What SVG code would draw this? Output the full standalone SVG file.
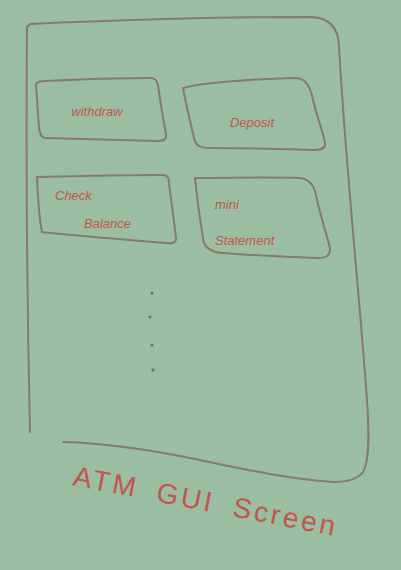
<svg xmlns="http://www.w3.org/2000/svg" width="401" height="570" viewBox="0 0 401 570">
<style>
.ln{fill:none;stroke:#857a6c;stroke-width:2;stroke-linecap:round;stroke-linejoin:round}
.tx{font-family:"Liberation Sans",Arial,sans-serif;fill:#c0574f;font-size:13px;font-style:italic}
.big{font-family:"Liberation Sans",Arial,sans-serif;fill:#c0574f;font-size:28px;letter-spacing:3px;word-spacing:8px}
.dot{fill:#6f6d62}
</style>
<rect width="401" height="570" fill="#9bbda2"/>
<g id="screen">
<path class="ln" d="M27,27 L30,24 C120,20 230,17 312,17 C330,18 338,28 339,45 C345,160 360,300 367,400 C369,430 370,460 363,472 C357,480 345,482 333,482 C280,478 230,466 190,458 C140,448 100,443 63,442"/>
<path class="ln" d="M27,27 C26,150 27,300 30,432"/>
</g>
<g id="withdraw">
<path class="ln" d="M36,84 C37,82 40,81 45,81 C80,79 120,78 150,78 C155,78 157,80 158,85 C160,100 163,118 166,134 C167,139 164,141 158,141 C120,140 80,139 46,138 C41,138 40,134 39,128 C38,112 37,98 36,84 Z"/>
<text class="tx" x="97" y="116" text-anchor="middle">withdraw</text>
</g>
<g id="deposit">
<path class="ln" d="M183,88 C200,83 250,79 295,78 C305,78 310,85 313,100 C318,120 324,135 325,143 C326,149 320,150 312,150 C275,149 240,148 210,148 C200,148 196,146 194,138 C190,120 186,105 183,88 Z"/>
<text class="tx" x="252" y="127" text-anchor="middle">Deposit</text>
</g>
<g id="check-balance">
<path class="ln" d="M37,177 C80,176 130,175 163,175 C168,175 169,178 169,183 C171,200 174,220 176,238 C176,243 172,244 166,243 C130,240 80,236 42,232 C39,218 38,200 37,177 Z"/>
<text class="tx" x="55" y="200">Check</text>
<text class="tx" x="84" y="228">Balance</text>
</g>
<g id="mini-statement">
<path class="ln" d="M195,178 C230,178 270,177 300,178 C310,179 314,186 316,195 C320,215 326,232 330,248 C331,256 325,258 318,258 C285,257 250,255 222,253 C210,252 203,246 203,238 C200,220 197,198 195,178 Z"/>
<text class="tx" x="215" y="209">mini</text>
<text class="tx" x="215" y="245">Statement</text>
</g>
<g id="ellipsis">
<circle class="dot" cx="152" cy="293" r="1.6"/>
<circle class="dot" cx="150" cy="317" r="1.6"/>
<circle class="dot" cx="152" cy="345" r="1.6"/>
<circle class="dot" cx="153" cy="370" r="1.6"/>
</g>
<g id="caption">
<text class="big" x="72" y="485" transform="rotate(11 72 485)">ATM GUI Screen</text>
</g>
<g id="connectors"/>
</svg>
